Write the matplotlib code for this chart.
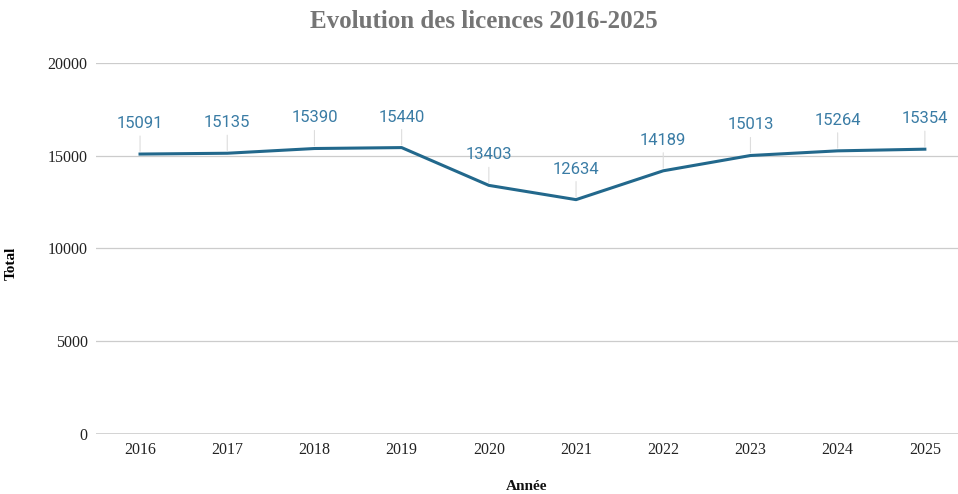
import matplotlib
matplotlib.use("Agg")
import matplotlib.pyplot as plt

# data
annees = ['2016', '2017', '2018', '2019', '2020', '2021', '2022', '2023', '2024', '2025']
totaux = [15091, 15135, 15390, 15440, 13403, 12634, 14189, 15013, 15264, 15354]

LINE_COLOR = '#22688c'
LABEL_COLOR = '#3a7ca5'

fig = plt.figure(figsize=(9.58, 4.94), dpi=100)
ax = fig.add_axes([96 / 958, 60 / 494, 862 / 958, 371 / 494])

x = list(range(len(annees)))
ax.plot(x, totaux, color=LINE_COLOR, linewidth=2.2, solid_joinstyle='round', zorder=3)

# value labels with thin leader lines
for xi, v in zip(x, totaux):
    ax.annotate(str(v), xy=(xi, v), xytext=(0, 22), textcoords='offset points',
                ha='center', va='center', fontsize=12, color=LABEL_COLOR,
                family='Roboto', zorder=4)
    ax.annotate('', xy=(xi, v), xytext=(0, 15), textcoords='offset points',
                arrowprops=dict(arrowstyle='-', color='#dddddd', lw=0.8), zorder=2)

ax.set_xlim(-0.505, 9.38)
ax.set_ylim(0, 20000)
ax.set_yticks([0, 5000, 10000, 15000, 20000])
ax.set_xticks(x)
ax.set_xticklabels(annees)

for s in ax.spines.values():
    s.set_visible(False)
ax.grid(axis='y', color='#cccccc', linewidth=0.9)
ax.axhline(0, color='#444444', linewidth=1.0, zorder=2)
ax.tick_params(length=0, labelsize=11.5, labelcolor='#222222', pad=6)
for lab in ax.get_xticklabels() + ax.get_yticklabels():
    lab.set_family('Liberation Serif')

ax.set_ylabel('Total', family='Liberation Serif', fontweight='bold', fontsize=11)
ax.yaxis.set_label_coords(-78 / 862, 0.46)

fig.text(527 / 958, 1 - 486 / 494, 'Année', ha='center', va='center',
         family='Liberation Serif', fontweight='bold', fontsize=11, color='#111111')
fig.text(484 / 958, 1 - 22 / 494, 'Evolution des licences 2016-2025', ha='center', va='center',
         family='Liberation Serif', fontweight='bold', fontsize=18, color='#757575')

fig.savefig('out.png', dpi=100)
